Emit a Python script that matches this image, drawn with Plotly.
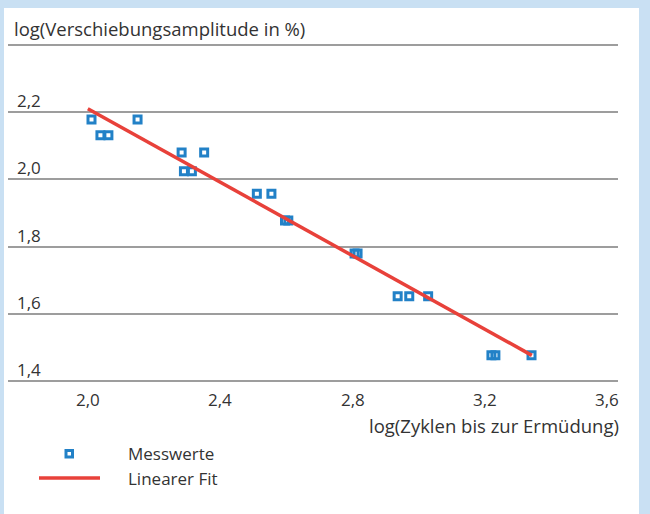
import plotly.graph_objects as go

# ---- data ----
x_vals = [2.011, 2.038, 2.062, 2.150, 2.283, 2.351, 2.290, 2.314, 2.510, 2.554,
          2.595, 2.605, 2.805, 2.814, 2.935, 2.970, 3.027, 3.218, 3.230, 3.339]
y_vals = [2.178, 2.131, 2.131, 2.178, 2.080, 2.080, 2.024, 2.024, 1.957, 1.957,
          1.878, 1.878, 1.780, 1.780, 1.653, 1.653, 1.653, 1.477, 1.477, 1.477]
fit_x = [2.0, 3.34]
fit_y = [2.21, 1.477]

x_tickvals = [2.0, 2.4, 2.8, 3.2, 3.6]
x_ticktext = ["2,0", "2,4", "2,8", "3,2", "3,6"]
y_tickvals = [1.4, 1.6, 1.8, 2.0, 2.2]
y_ticktext = ["1,4", "1,6", "1,8", "2,0", "2,2"]
y_gridvals = [1.4, 1.6, 1.8, 2.0, 2.2, 2.4]

y_title = "log(Verschiebungsamplitude in %)"
x_title = "log(Zyklen bis zur Ermüdung)"
legend_names = ["Messwerte", "Linearer Fit"]

# ---- style ----
FONT = "Open Sans"
TXT = "#333333"
BLUE = "#2281c7"
RED = "#e8413a"
GRID = "#9d9d9d"
BORDER = "#c9e0f3"

W, H = 650, 514
ML, MR, MT, MB = 8, 32, 38, 126
PW, PH = W - ML - MR, H - MT - MB


def px_x(p):
    return (p - ML) / PW


def px_y(p):
    return (H - MB - p) / PH


fig = go.Figure()
fig.add_trace(go.Scatter(
    x=x_vals, y=y_vals, mode="markers", name=legend_names[0],
    marker=dict(symbol="square-open", size=7, color=BLUE, line=dict(width=3, color=BLUE)),
    showlegend=False,
))
fig.add_trace(go.Scatter(
    x=fit_x, y=fit_y, mode="lines", name=legend_names[1],
    line=dict(color=RED, width=3.5), showlegend=False,
))

shapes = [
    # white card inside light-blue frame
    dict(type="rect", xref="paper", yref="paper", layer="below",
         x0=px_x(4), x1=px_x(639), y0=px_y(520), y1=px_y(8),
         fillcolor="white", line=dict(width=0)),
    # legend glyphs
    dict(type="line", xref="paper", yref="paper",
         x0=px_x(39), x1=px_x(100), y0=px_y(478), y1=px_y(478),
         line=dict(color=RED, width=3.5)),
    dict(type="rect", xref="paper", yref="paper",
         x0=px_x(66), x1=px_x(72.5), y0=px_y(457), y1=px_y(450.5),
         line=dict(color=BLUE, width=3), fillcolor="white"),
]

annotations = []
for v, t in zip(y_tickvals, y_ticktext):
    annotations.append(dict(x=px_x(15), y=v, xref="paper", yref="y", text=t,
                            showarrow=False, xanchor="left", yanchor="bottom", yshift=-2,
                            font=dict(family=FONT, size=17, color=TXT)))
for i, (v, t) in enumerate(zip(x_tickvals, x_ticktext)):
    last = i == len(x_tickvals) - 1
    annotations.append(dict(x=v, y=px_y(399), xref="x", yref="paper", text=t,
                            showarrow=False, xanchor="right" if last else "center",
                            yanchor="middle", xshift=3 if last else 0,
                            font=dict(family=FONT, size=17, color=TXT)))
annotations.append(dict(x=px_x(12), y=px_y(29), xref="paper", yref="paper", text=y_title,
                        showarrow=False, xanchor="left", yanchor="middle",
                        font=dict(family=FONT, size=18.5, color=TXT)))
annotations.append(dict(x=px_x(621), y=px_y(425), xref="paper", yref="paper", text=x_title,
                        showarrow=False, xanchor="right", yanchor="middle",
                        font=dict(family=FONT, size=18.5, color=TXT)))
for name, yy in zip(legend_names, [453, 478]):
    annotations.append(dict(x=px_x(126), y=px_y(yy), xref="paper", yref="paper", text=name,
                            showarrow=False, xanchor="left", yanchor="middle",
                            font=dict(family=FONT, size=17, color=TXT)))

fig.update_layout(
    width=W, height=H,
    margin=dict(l=ML, r=MR, t=MT, b=MB),
    paper_bgcolor=BORDER, plot_bgcolor="rgba(0,0,0,0)",
    showlegend=False,
    shapes=shapes, annotations=annotations,
    xaxis=dict(range=[1.759, 3.6], showgrid=False, zeroline=False, showline=False,
               showticklabels=False, ticks=""),
    yaxis=dict(range=[1.38, 2.42], tickvals=y_gridvals,
               showgrid=True, gridcolor=GRID, gridwidth=1.5,
               zeroline=False, showline=False, showticklabels=False, ticks=""),
)

fig.write_html("out.html", config={"displayModeBar": False},
               post_script="document.body.style.margin='0';")
